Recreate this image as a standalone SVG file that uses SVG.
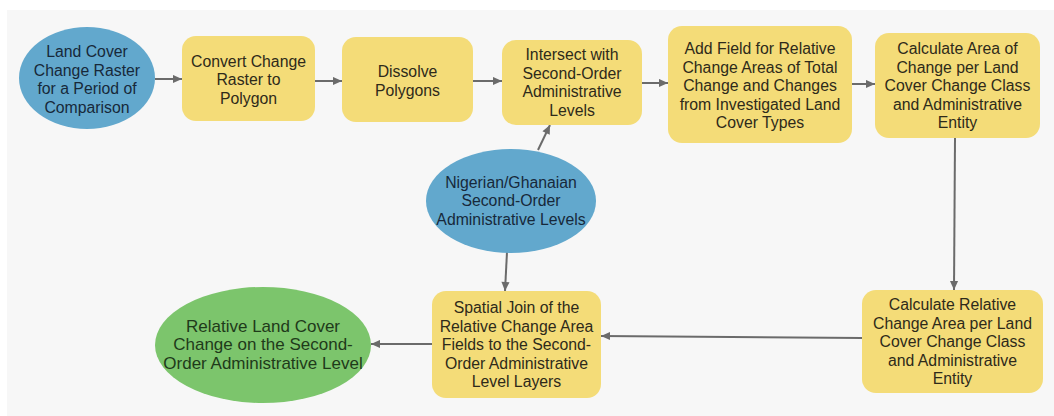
<svg xmlns="http://www.w3.org/2000/svg" width="1054" height="416" viewBox="0 0 1054 416">
<defs>
<marker id="arr" viewBox="0 0 10 10" refX="10" refY="5" markerWidth="10" markerHeight="9" markerUnits="userSpaceOnUse" orient="auto">
<path d="M0,0.5 L10,5 L0,9.5 z" fill="#6b6b6b"/>
</marker>
<style>
.bg{fill:#f7f7f7}
.data{fill:#62a8cd}
.proc{fill:#f4dc78}
.out{fill:#7cc56c}
text{font-family:"Liberation Sans",Arial,sans-serif;font-size:15.8px;text-anchor:middle}
.dt{fill:#17283a}
.pt{fill:#2e2a1a}
.ot{fill:#1f3a1a;font-size:17px}
.c{stroke:#6b6b6b;stroke-width:2;fill:none;marker-end:url(#arr)}
</style>
</defs>
<rect width="1054" height="416" fill="#ffffff"/>
<rect class="bg" x="7" y="10" width="1047" height="406"/>
<g id="connectors">
<line class="c" x1="155" y1="79" x2="182" y2="79"/>
<line class="c" x1="315" y1="81" x2="342" y2="81"/>
<line class="c" x1="473" y1="81" x2="502" y2="81"/>
<line class="c" x1="642" y1="83" x2="668" y2="83"/>
<line class="c" x1="852" y1="84" x2="875" y2="84"/>
<line class="c" x1="955" y1="138" x2="954" y2="290"/>
<line class="c" x1="538" y1="150" x2="550" y2="125"/>
<line class="c" x1="507" y1="252" x2="505" y2="291"/>
<line class="c" x1="862" y1="338" x2="601" y2="336"/>
<line class="c" x1="432" y1="344" x2="371" y2="344"/>
</g>
<g id="n1">
<ellipse class="data" cx="87" cy="78" rx="68" ry="51"/>
<text class="dt"><tspan x="87" y="57">Land Cover</tspan><tspan x="87" y="75.5">Change Raster</tspan><tspan x="87" y="94">for a Period of</tspan><tspan x="87" y="112.5">Comparison</tspan></text>
</g>
<g id="n2">
<rect class="proc" x="182" y="36" width="133" height="85" rx="14"/>
<text class="pt"><tspan x="248.5" y="66.5">Convert Change</tspan><tspan x="248.5" y="85">Raster to</tspan><tspan x="248.5" y="103.5">Polygon</tspan></text>
</g>
<g id="n3">
<rect class="proc" x="342" y="37" width="131" height="85" rx="14"/>
<text class="pt"><tspan x="407.5" y="77">Dissolve</tspan><tspan x="407.5" y="95.5">Polygons</tspan></text>
</g>
<g id="n4">
<rect class="proc" x="502" y="40" width="140" height="85" rx="14"/>
<text class="pt"><tspan x="572" y="60">Intersect with</tspan><tspan x="572" y="78.5">Second-Order</tspan><tspan x="572" y="97">Administrative</tspan><tspan x="572" y="115.5">Levels</tspan></text>
</g>
<g id="n5">
<rect class="proc" x="668" y="26" width="184" height="117" rx="14"/>
<text class="pt"><tspan x="760" y="54">Add Field for Relative</tspan><tspan x="760" y="72.5">Change Areas of Total</tspan><tspan x="760" y="91">Change and Changes</tspan><tspan x="760" y="109.5">from Investigated Land</tspan><tspan x="760" y="128">Cover Types</tspan></text>
</g>
<g id="n6">
<rect class="proc" x="875" y="33" width="165" height="105" rx="14"/>
<text class="pt"><tspan x="957.5" y="54">Calculate Area of</tspan><tspan x="957.5" y="72.5">Change per Land</tspan><tspan x="957.5" y="91">Cover Change Class</tspan><tspan x="957.5" y="109.5">and Administrative</tspan><tspan x="957.5" y="128">Entity</tspan></text>
</g>
<g id="n7">
<ellipse class="data" cx="511" cy="201" rx="85" ry="52"/>
<text class="dt"><tspan x="511" y="187.5">Nigerian/Ghanaian</tspan><tspan x="511" y="206">Second-Order</tspan><tspan x="511" y="224.5">Administrative Levels</tspan></text>
</g>
<g id="n8">
<rect class="proc" x="432" y="291" width="169" height="107" rx="14"/>
<text class="pt"><tspan x="516.5" y="313">Spatial Join of the</tspan><tspan x="516.5" y="331.5">Relative Change Area</tspan><tspan x="516.5" y="350">Fields to the Second-</tspan><tspan x="516.5" y="368.5">Order Administrative</tspan><tspan x="516.5" y="387">Level Layers</tspan></text>
</g>
<g id="n9">
<ellipse class="out" cx="263" cy="345" rx="108" ry="58"/>
<text class="ot"><tspan x="263" y="331.5">Relative Land Cover</tspan><tspan x="263" y="350">Change on the Second-</tspan><tspan x="263" y="368.5">Order Administrative Level</tspan></text>
</g>
<g id="n10">
<rect class="proc" x="862" y="290" width="181" height="103" rx="14"/>
<text class="pt"><tspan x="952.5" y="310">Calculate Relative</tspan><tspan x="952.5" y="328.5">Change Area per Land</tspan><tspan x="952.5" y="347">Cover Change Class</tspan><tspan x="952.5" y="365.5">and Administrative</tspan><tspan x="952.5" y="384">Entity</tspan></text>
</g>
</svg>
